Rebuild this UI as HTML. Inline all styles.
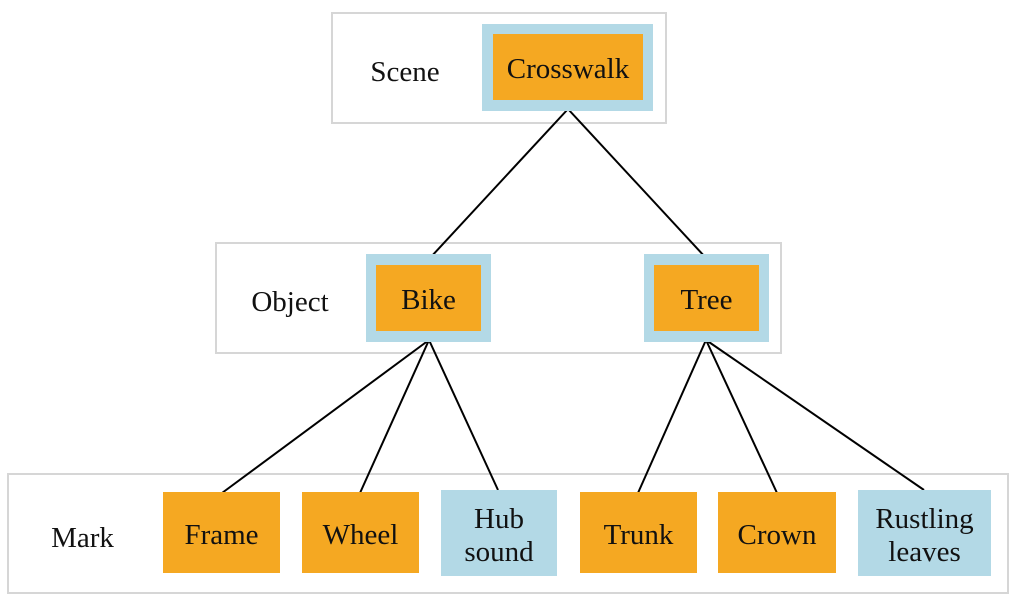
<!DOCTYPE html>
<html><head><style>
body{margin:0;background:#fff;width:1029px;height:603px;overflow:hidden;position:relative;font-family:"Liberation Serif",serif;font-size:29px;color:#111}
.b{position:absolute;box-sizing:border-box}
.g{border:2px solid #d6d6d6}
.bl{background:#b3d9e6}
.or{background:#f5a822}
.t{position:absolute;display:flex;align-items:center;justify-content:center;text-align:center;line-height:33px;padding-top:5px;box-sizing:border-box}
</style></head><body>
<div class="b g" style="left:331px;top:12px;width:336px;height:112px"></div>
<div class="b g" style="left:215px;top:242px;width:567px;height:112px"></div>
<div class="b g" style="left:7px;top:473px;width:1002px;height:121px"></div>
<svg width="1029" height="603" style="position:absolute;left:0;top:0" stroke="#000" stroke-width="2">
<line x1="568" y1="109" x2="430" y2="258"/><line x1="568" y1="109" x2="706" y2="258"/>
<line x1="429" y1="340" x2="222" y2="493"/><line x1="429" y1="340" x2="360" y2="493"/><line x1="429" y1="340" x2="498" y2="490"/>
<line x1="706" y1="340" x2="638" y2="493"/><line x1="706" y1="340" x2="777" y2="493"/><line x1="706" y1="340" x2="924" y2="490"/>
</svg>
<div class="b bl" style="left:482px;top:24px;width:171px;height:87px"></div>
<div class="b or t" style="left:493px;top:34px;width:150px;height:66px">Crosswalk</div>
<div class="b bl" style="left:366px;top:254px;width:125px;height:88px"></div>
<div class="b or t" style="left:376px;top:265px;width:105px;height:66px">Bike</div>
<div class="b bl" style="left:644px;top:254px;width:125px;height:88px"></div>
<div class="b or t" style="left:654px;top:265px;width:105px;height:66px">Tree</div>
<div class="t" style="left:340px;top:50px;width:130px;height:40px">Scene</div>
<div class="t" style="left:225px;top:280px;width:130px;height:40px">Object</div>
<div class="t" style="left:20px;top:516px;width:125px;height:40px">Mark</div>
<div class="b or t" style="left:163px;top:492px;width:117px;height:81px">Frame</div>
<div class="b or t" style="left:302px;top:492px;width:117px;height:81px">Wheel</div>
<div class="b bl t" style="left:441px;top:490px;width:116px;height:86px">Hub<br>sound</div>
<div class="b or t" style="left:580px;top:492px;width:117px;height:81px">Trunk</div>
<div class="b or t" style="left:718px;top:492px;width:118px;height:81px">Crown</div>
<div class="b bl t" style="left:858px;top:490px;width:133px;height:86px">Rustling<br>leaves</div>
</body></html>
